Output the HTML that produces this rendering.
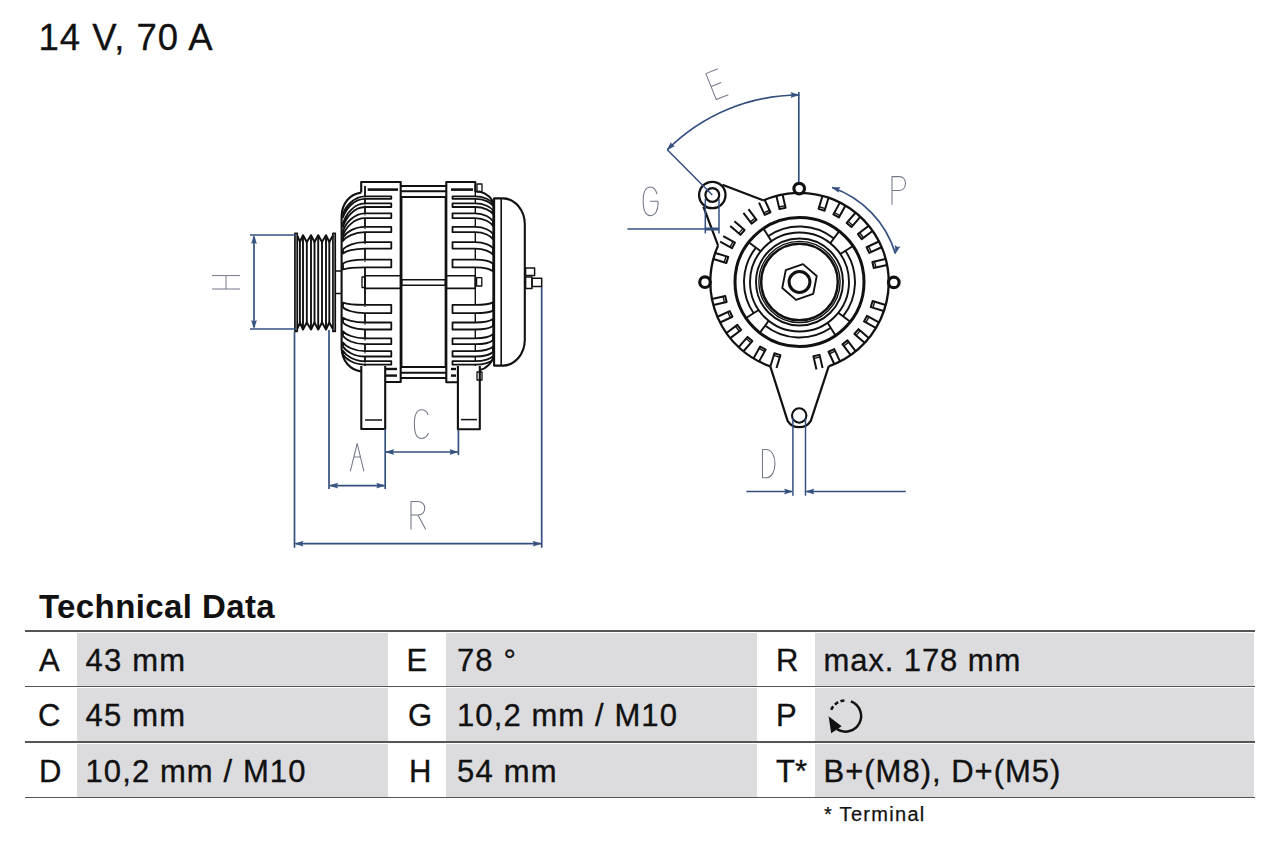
<!DOCTYPE html>
<html><head><meta charset="utf-8">
<style>
html,body{margin:0;padding:0;background:#fff;}
body{width:1280px;height:853px;position:relative;overflow:hidden;font-family:"Liberation Sans",sans-serif;color:#111;}
.t{position:absolute;white-space:pre;line-height:1;}
.title{left:38.5px;top:19.8px;font-size:36.5px;letter-spacing:1.0px;-webkit-text-stroke:0.3px #111;}
.h2{left:39px;top:590px;font-size:33px;font-weight:700;letter-spacing:0.4px;}
.hl{position:absolute;left:25px;width:1230px;height:1.6px;background:#555;}
.g{position:absolute;background:#dcdcdf;}
.c{position:absolute;font-size:31px;-webkit-text-stroke:0.35px #111;white-space:pre;line-height:1;}
.foot{left:824px;top:804.3px;font-size:20px;letter-spacing:1.3px;-webkit-text-stroke:0.25px #111;}
svg{position:absolute;left:0;top:0;}
</style></head><body>
<svg width="1280" height="853" viewBox="0 0 1280 853" stroke-linecap="butt" stroke-linejoin="round">
<rect x="294.90" y="233.20" width="2.40" height="98.20" stroke="#111" stroke-width="1.6" fill="#aaa"/>
<rect x="332.90" y="233.20" width="2.40" height="98.20" stroke="#111" stroke-width="1.6" fill="#aaa"/>
<path d="M297.6,236 L299.9,242 L303,235.2 L306.8,242 L311,235.2 L314.5,242 L318.2,235.2 L322,242 L326,235.2 L329.3,242 L332.6,236" stroke="#111" stroke-width="2.0" fill="none" />
<path d="M297.6,328.5 L299.9,322.5 L303,329.5 L306.8,322.5 L311,329.5 L314.5,322.5 L318.2,329.5 L322,322.5 L326,329.5 L329.3,322.5 L332.6,328.5" stroke="#111" stroke-width="2.0" fill="none" />
<line x1="299.90" y1="242.00" x2="299.90" y2="322.50" stroke="#111" stroke-width="1.9"/>
<line x1="303.00" y1="235.20" x2="303.00" y2="329.50" stroke="#111" stroke-width="1.9"/>
<line x1="306.80" y1="242.00" x2="306.80" y2="322.50" stroke="#111" stroke-width="1.9"/>
<line x1="311.00" y1="235.20" x2="311.00" y2="329.50" stroke="#111" stroke-width="1.9"/>
<line x1="314.50" y1="242.00" x2="314.50" y2="322.50" stroke="#111" stroke-width="1.9"/>
<line x1="318.20" y1="235.20" x2="318.20" y2="329.50" stroke="#111" stroke-width="1.9"/>
<line x1="322.00" y1="242.00" x2="322.00" y2="322.50" stroke="#111" stroke-width="1.9"/>
<line x1="326.00" y1="235.20" x2="326.00" y2="329.50" stroke="#111" stroke-width="1.9"/>
<line x1="329.30" y1="242.00" x2="329.30" y2="322.50" stroke="#111" stroke-width="1.9"/>
<path d="M335.6,271 H341.6 M335.6,293.6 H341.6" stroke="#111" stroke-width="1.5" fill="none" />
<path d="M361.2,192.6 V182 H400.7 V382 H385.2" stroke="#111" stroke-width="2.1" fill="none" />
<path d="M361.2,192.6 C350,194 342,203 341.6,216 V348 C342,361 350,370 361.2,371.4" stroke="#111" stroke-width="2.1" fill="none" />
<line x1="365.00" y1="186.00" x2="365.00" y2="366.00" stroke="#111" stroke-width="1.4"/>
<line x1="367.70" y1="189.60" x2="398.00" y2="189.60" stroke="#111" stroke-width="2.6"/>
<line x1="386.00" y1="369.00" x2="397.00" y2="369.00" stroke="#111" stroke-width="2.4"/>
<line x1="386.00" y1="375.60" x2="397.00" y2="375.60" stroke="#111" stroke-width="2.4"/>
<path d="M361.3,366 V429 H385.2 V366" stroke="#111" stroke-width="2.1" fill="none" />
<line x1="365.00" y1="420.00" x2="382.00" y2="420.00" stroke="#111" stroke-width="1.5"/>
<rect x="365.00" y="275.80" width="35.70" height="12.60" stroke="#111" stroke-width="1.6" fill="none"/>
<rect x="362.00" y="277.00" width="3.00" height="10.50" stroke="#111" stroke-width="1.3" fill="none"/>
<line x1="365.00" y1="186.00" x2="365.00" y2="366.00" stroke="#111" stroke-width="1.4"/>
<line x1="475.30" y1="186.00" x2="475.30" y2="366.00" stroke="#111" stroke-width="1.4"/>
<path d="M391.3,196.4 H365 C354.00,196.4 345.64,206.08 343.0,214 L343.0,217.5 C345.64,209.09 354.00,198.8 365,198.8 H391.3 Z" stroke="#111" stroke-width="1.8" fill="#fff" />
<path d="M391.3,203.4 H365 C354.00,203.4 345.64,214.46 343.0,223.5 L343.0,227 C345.64,218.00 354.00,207.0 365,207.0 H391.3 Z" stroke="#111" stroke-width="1.8" fill="#fff" />
<path d="M391.3,213.4 H365 C354.00,213.4 345.64,223.08 343.0,231 L343.0,235.5 C345.64,227.67 354.00,218.1 365,218.1 H391.3 Z" stroke="#111" stroke-width="1.8" fill="#fff" />
<path d="M391.3,226.9 H365 C354.00,226.9 345.64,232.73 343.0,237.5 L343.0,241 C345.64,237.04 354.00,232.2 365,232.2 H391.3 Z" stroke="#111" stroke-width="1.8" fill="#fff" />
<path d="M391.3,242.1 H365 C354.00,242.1 345.64,246.17 343.0,249.5 L343.0,253.5 C345.64,251.29 354.00,248.6 365,248.6 H391.3 Z" stroke="#111" stroke-width="1.8" fill="#fff" />
<path d="M391.3,259.7 H365 C354.00,259.7 345.64,261.79 343.0,263.5 L343.0,269.5 C345.64,268.51 354.00,267.3 365,267.3 H391.3 Z" stroke="#111" stroke-width="1.8" fill="#fff" />
<path d="M391.3,304.9 H365 C354.00,304.9 345.64,303.63 343.0,302.6 L343.0,307.5 C345.64,310.02 354.00,313.1 365,313.1 H391.3 Z" stroke="#111" stroke-width="1.8" fill="#fff" />
<path d="M391.3,322.5 H365 C354.00,322.5 345.64,319.92 343.0,317.8 L343.0,322.5 C345.64,325.65 354.00,329.5 365,329.5 H391.3 Z" stroke="#111" stroke-width="1.8" fill="#fff" />
<path d="M391.3,338.3 H365 C354.00,338.3 345.64,334.45 343.0,331.3 L343.0,336 C345.64,339.69 354.00,344.2 365,344.2 H391.3 Z" stroke="#111" stroke-width="1.8" fill="#fff" />
<path d="M391.3,351.2 H365 C354.00,351.2 345.64,346.36 343.0,342.4 L343.0,346.5 C345.64,351.00 354.00,356.5 365,356.5 H391.3 Z" stroke="#111" stroke-width="1.8" fill="#fff" />
<path d="M391.3,361.2 H365 C354.00,361.2 345.64,355.37 343.0,350.6 L343.0,354.5 C345.64,359.09 354.00,364.7 365,364.7 H391.3 Z" stroke="#111" stroke-width="1.8" fill="#fff" />
<path d="M452.5,196.4 H475.3 C484.15,196.4 490.88,200.25 493.0,203.4 L493.0,205.8 C490.88,202.65 484.15,198.8 475.3,198.8 H452.5 Z" stroke="#111" stroke-width="1.8" fill="#fff" />
<path d="M452.5,203.4 H475.3 C484.15,203.4 490.88,207.25 493.0,210.4 L493.0,214.0 C490.88,210.85 484.15,207.0 475.3,207.0 H452.5 Z" stroke="#111" stroke-width="1.8" fill="#fff" />
<path d="M452.5,213.4 H475.3 C484.15,213.4 490.88,217.80 493.0,221.4 L493.0,226.1 C490.88,222.50 484.15,218.1 475.3,218.1 H452.5 Z" stroke="#111" stroke-width="1.8" fill="#fff" />
<path d="M452.5,226.9 H475.3 C484.15,226.9 490.88,230.75 493.0,233.9 L493.0,239.2 C490.88,236.05 484.15,232.2 475.3,232.2 H452.5 Z" stroke="#111" stroke-width="1.8" fill="#fff" />
<path d="M452.5,242.1 H475.3 C484.15,242.1 490.88,245.40 493.0,248.1 L493.0,254.6 C490.88,251.90 484.15,248.6 475.3,248.6 H452.5 Z" stroke="#111" stroke-width="1.8" fill="#fff" />
<path d="M452.5,259.7 H475.3 C484.15,259.7 490.88,261.90 493.0,263.7 L493.0,271.3 C490.88,269.50 484.15,267.3 475.3,267.3 H452.5 Z" stroke="#111" stroke-width="1.8" fill="#fff" />
<path d="M452.5,304.9 H475.3 C484.15,304.9 490.88,303.52 493.0,302.4 L493.0,310.6 C490.88,311.73 484.15,313.1 475.3,313.1 H452.5 Z" stroke="#111" stroke-width="1.8" fill="#fff" />
<path d="M452.5,322.5 H475.3 C484.15,322.5 490.88,320.57 493.0,319.0 L493.0,326.0 C490.88,327.57 484.15,329.5 475.3,329.5 H452.5 Z" stroke="#111" stroke-width="1.8" fill="#fff" />
<path d="M452.5,338.3 H475.3 C484.15,338.3 490.88,336.10 493.0,334.3 L493.0,340.2 C490.88,342.00 484.15,344.2 475.3,344.2 H452.5 Z" stroke="#111" stroke-width="1.8" fill="#fff" />
<path d="M452.5,351.2 H475.3 C484.15,351.2 490.88,348.72 493.0,346.7 L493.0,352.0 C490.88,354.02 484.15,356.5 475.3,356.5 H452.5 Z" stroke="#111" stroke-width="1.8" fill="#fff" />
<path d="M452.5,361.2 H475.3 C484.15,361.2 490.88,358.45 493.0,356.2 L493.0,359.7 C490.88,361.95 484.15,364.7 475.3,364.7 H452.5 Z" stroke="#111" stroke-width="1.8" fill="#fff" />
<line x1="365.00" y1="197.40" x2="365.00" y2="198.60" stroke="#111" stroke-width="1.2"/>
<line x1="365.00" y1="204.40" x2="365.00" y2="205.60" stroke="#111" stroke-width="1.2"/>
<line x1="365.00" y1="214.40" x2="365.00" y2="215.60" stroke="#111" stroke-width="1.2"/>
<line x1="365.00" y1="227.90" x2="365.00" y2="229.10" stroke="#111" stroke-width="1.2"/>
<line x1="365.00" y1="243.10" x2="365.00" y2="244.30" stroke="#111" stroke-width="1.2"/>
<line x1="365.00" y1="260.70" x2="365.00" y2="261.90" stroke="#111" stroke-width="1.2"/>
<line x1="365.00" y1="305.90" x2="365.00" y2="307.10" stroke="#111" stroke-width="1.2"/>
<line x1="365.00" y1="323.50" x2="365.00" y2="324.70" stroke="#111" stroke-width="1.2"/>
<line x1="365.00" y1="339.30" x2="365.00" y2="340.50" stroke="#111" stroke-width="1.2"/>
<line x1="365.00" y1="352.20" x2="365.00" y2="353.40" stroke="#111" stroke-width="1.2"/>
<line x1="365.00" y1="362.20" x2="365.00" y2="363.40" stroke="#111" stroke-width="1.2"/>
<path d="M400.7,186 H446.3 M400.7,191.2 H446.3 M400.7,197 H446.3" stroke="#111" stroke-width="2.1" fill="none" />
<path d="M400.7,367 H446.3 M400.7,372.8 H446.3 M400.7,378 H446.3" stroke="#111" stroke-width="2.1" fill="none" />
<line x1="401.70" y1="197.00" x2="401.70" y2="367.00" stroke="#111" stroke-width="1.5"/>
<line x1="445.40" y1="197.00" x2="445.40" y2="367.00" stroke="#111" stroke-width="1.5"/>
<rect x="401.70" y="279.80" width="43.70" height="5.40" stroke="#111" stroke-width="1.6" fill="none"/>
<path d="M475.3,192 V182 H446.3 V382.2 H458" stroke="#111" stroke-width="2.1" fill="none" />
<line x1="475.30" y1="191.50" x2="480.00" y2="191.50" stroke="#111" stroke-width="1.6"/>
<path d="M479.5,191.5 C486,193 493,198 493.4,205 V356 C493,362 486,369 479.5,370" stroke="#111" stroke-width="2.1" fill="none" />
<line x1="451.00" y1="189.60" x2="473.00" y2="189.60" stroke="#111" stroke-width="2.6"/>
<line x1="451.00" y1="369.00" x2="456.00" y2="369.00" stroke="#111" stroke-width="2.4"/>
<line x1="451.00" y1="375.60" x2="456.00" y2="375.60" stroke="#111" stroke-width="2.4"/>
<rect x="446.30" y="275.80" width="29.00" height="12.60" stroke="#111" stroke-width="1.6" fill="none"/>
<rect x="477.00" y="184.00" width="5.00" height="8.00" stroke="#111" stroke-width="1.3" fill="none"/>
<rect x="476.60" y="277.60" width="5.20" height="8.40" stroke="#111" stroke-width="1.3" fill="none"/>
<rect x="477.00" y="372.00" width="5.00" height="8.00" stroke="#111" stroke-width="1.3" fill="none"/>
<path d="M457.9,366 V429.3 H479.8 V366" stroke="#111" stroke-width="2.1" fill="none" />
<line x1="461.00" y1="419.60" x2="477.00" y2="419.60" stroke="#111" stroke-width="1.5"/>
<path d="M494.1,198.4 H503 A22,26 0 0 1 524.8,224 V340 A22,26 0 0 1 503,365.6 H494.1 Z" stroke="#111" stroke-width="2.1" fill="#fff" />
<line x1="501.20" y1="198.40" x2="501.20" y2="365.60" stroke="#111" stroke-width="1.6"/>
<rect x="525.60" y="267.90" width="9.00" height="7.70" stroke="#111" stroke-width="1.5" fill="none"/>
<rect x="525.60" y="277.00" width="6.40" height="11.50" stroke="#111" stroke-width="1.5" fill="none"/>
<rect x="532.00" y="278.20" width="9.70" height="8.40" stroke="#111" stroke-width="1.5" fill="none"/>
<line x1="250.00" y1="235.00" x2="296.00" y2="235.00" stroke="#34507f" stroke-width="1.7"/>
<line x1="250.00" y1="329.00" x2="296.00" y2="329.00" stroke="#34507f" stroke-width="1.7"/>
<line x1="254.00" y1="237.00" x2="254.00" y2="327.00" stroke="#34507f" stroke-width="1.7"/>
<path d="M254.00,235.80 L256.40,243.40 L254.00,242.26 L251.60,243.40 Z" fill="#34507f" stroke="#34507f" stroke-width="0.6"/>
<path d="M254.00,328.20 L251.60,320.60 L254.00,321.74 L256.40,320.60 Z" fill="#34507f" stroke="#34507f" stroke-width="0.6"/>
<path d="M212,275.6 H240 M212,289 H240 M226,275.6 V289" stroke="#737888" stroke-width="1.0" fill="none" />
<line x1="294.50" y1="332.00" x2="294.50" y2="547.80" stroke="#34507f" stroke-width="1.7"/>
<line x1="541.70" y1="287.00" x2="541.70" y2="547.80" stroke="#34507f" stroke-width="1.7"/>
<line x1="295.50" y1="543.70" x2="541.00" y2="543.70" stroke="#34507f" stroke-width="1.7"/>
<path d="M295.40,543.70 L303.00,541.30 L301.86,543.70 L303.00,546.10 Z" fill="#34507f" stroke="#34507f" stroke-width="0.6"/>
<path d="M540.80,543.70 L533.20,546.10 L534.34,543.70 L533.20,541.30 Z" fill="#34507f" stroke="#34507f" stroke-width="0.6"/>
<line x1="329.00" y1="330.00" x2="329.00" y2="489.00" stroke="#34507f" stroke-width="1.7"/>
<line x1="385.20" y1="429.00" x2="385.20" y2="489.00" stroke="#34507f" stroke-width="1.7"/>
<line x1="330.00" y1="485.60" x2="384.50" y2="485.60" stroke="#34507f" stroke-width="1.7"/>
<path d="M330.00,485.60 L337.60,483.20 L336.46,485.60 L337.60,488.00 Z" fill="#34507f" stroke="#34507f" stroke-width="0.6"/>
<path d="M384.40,485.60 L376.80,488.00 L377.94,485.60 L376.80,483.20 Z" fill="#34507f" stroke="#34507f" stroke-width="0.6"/>
<line x1="458.40" y1="429.30" x2="458.40" y2="455.00" stroke="#34507f" stroke-width="1.7"/>
<line x1="386.00" y1="452.00" x2="457.60" y2="452.00" stroke="#34507f" stroke-width="1.7"/>
<path d="M386.00,452.00 L393.60,449.60 L392.46,452.00 L393.60,454.40 Z" fill="#34507f" stroke="#34507f" stroke-width="0.6"/>
<path d="M457.60,452.00 L450.00,454.40 L451.14,452.00 L450.00,449.60 Z" fill="#34507f" stroke="#34507f" stroke-width="0.6"/>
<path d="M350.3,471.4 L357.2,443.5 L363.9,471.4 M353.8,457 H360.7" stroke="#737888" stroke-width="1.05" fill="none" />
<path d="M428.2,415 C427,411.5 424.5,409.8 421.5,409.8 C416.5,409.8 414.4,416 414.4,424 C414.4,432.5 416.5,438.5 421.5,438.5 C424.5,438.5 427,436.5 428.5,433" stroke="#737888" stroke-width="1.05" fill="none" />
<path d="M411,529.5 V501.5 H418 C427,501.5 427,515 418,515 H411 M418,515 L425.7,529.5" stroke="#737888" stroke-width="1.05" fill="none" />
<path d="M763.12,200.56 A89.2,89.2 0 1 1 828.66,366.30" stroke="#111" stroke-width="2.3" fill="none" />
<path d="M770.34,366.30 A89.2,89.2 0 0 1 718.17,245.37" stroke="#111" stroke-width="2.3" fill="none" />
<circle cx="712.30" cy="195.00" r="13.20" stroke="#111" stroke-width="2.3" fill="none"/>
<circle cx="712.30" cy="195.00" r="6.90" stroke="#111" stroke-width="2.2" fill="none"/>
<line x1="722.40" y1="184.80" x2="763.00" y2="200.30" stroke="#111" stroke-width="2.2"/>
<line x1="703.40" y1="206.70" x2="718.00" y2="245.30" stroke="#111" stroke-width="2.2"/>
<path d="M770.3,366.4 L787.6,420.8 A13.7,13.7 0 0 0 810.8,420.8 L828.7,366.4" stroke="#111" stroke-width="2.2" fill="none" />
<circle cx="799.20" cy="415.50" r="7.20" stroke="#111" stroke-width="2.1" fill="none"/>
<circle cx="799.20" cy="188.60" r="5.30" stroke="#111" stroke-width="3.2" fill="#fff"/>
<circle cx="705.00" cy="282.20" r="5.30" stroke="#111" stroke-width="3.2" fill="#fff"/>
<circle cx="893.80" cy="282.40" r="5.30" stroke="#111" stroke-width="3.2" fill="#fff"/>
<circle cx="799.50" cy="282.00" r="64.50" stroke="#111" stroke-width="3.0" fill="none"/>
<circle cx="799.50" cy="282.00" r="49.50" stroke="#111" stroke-width="1.9" fill="none"/>
<circle cx="799.50" cy="282.00" r="43.50" stroke="#111" stroke-width="1.9" fill="none"/>
<circle cx="799.50" cy="282.00" r="40.60" stroke="#111" stroke-width="1.4" fill="none"/>
<circle cx="799.50" cy="282.00" r="38.30" stroke="#111" stroke-width="2.5" fill="none"/>
<path d="M845.51,250.96 A55.5,55.5 0 0 1 843.23,316.17" stroke="#111" stroke-width="1.9" fill="none" />
<path d="M830.54,328.01 A55.5,55.5 0 0 1 765.33,325.73" stroke="#111" stroke-width="1.9" fill="none" />
<path d="M753.49,313.04 A55.5,55.5 0 0 1 755.77,247.83" stroke="#111" stroke-width="1.9" fill="none" />
<path d="M768.46,235.99 A55.5,55.5 0 0 1 833.67,238.27" stroke="#111" stroke-width="1.9" fill="none" />
<line x1="839.21" y1="231.17" x2="830.28" y2="243.23" stroke="#111" stroke-width="1.9"/>
<line x1="852.97" y1="245.93" x2="840.32" y2="254.00" stroke="#111" stroke-width="1.9"/>
<line x1="850.33" y1="321.71" x2="838.27" y2="312.78" stroke="#111" stroke-width="1.9"/>
<line x1="835.57" y1="335.47" x2="827.50" y2="322.82" stroke="#111" stroke-width="1.9"/>
<line x1="759.79" y1="332.83" x2="768.72" y2="320.77" stroke="#111" stroke-width="1.9"/>
<line x1="746.03" y1="318.07" x2="758.68" y2="310.00" stroke="#111" stroke-width="1.9"/>
<line x1="748.67" y1="242.29" x2="760.73" y2="251.22" stroke="#111" stroke-width="1.9"/>
<line x1="763.43" y1="228.53" x2="771.50" y2="241.18" stroke="#111" stroke-width="1.9"/>
<path d="M816.71,276.07 L813.24,293.94 L796.03,299.87 L782.29,287.93 L785.76,270.06 L802.97,264.13 Z" stroke="#111" stroke-width="1.9" fill="none" />
<circle cx="799.50" cy="282.00" r="10.40" stroke="#111" stroke-width="3.0" fill="none"/>
<path d="M822.51,195.97 L818.56,208.88 L824.59,210.72 L828.53,197.81" stroke="#111" stroke-width="2.0" fill="none" />
<line x1="819.20" y1="206.77" x2="825.23" y2="208.62" stroke="#111" stroke-width="1.4"/>
<path d="M839.89,202.63 L833.35,214.44 L838.86,217.49 L845.40,205.69" stroke="#111" stroke-width="2.0" fill="none" />
<line x1="834.41" y1="212.51" x2="839.92" y2="215.57" stroke="#111" stroke-width="1.4"/>
<path d="M855.51,212.76 L846.66,222.95 L851.41,227.09 L860.27,216.90" stroke="#111" stroke-width="2.0" fill="none" />
<line x1="848.10" y1="221.29" x2="852.85" y2="225.43" stroke="#111" stroke-width="1.4"/>
<path d="M868.68,225.92 L857.90,234.05 L861.69,239.08 L872.47,230.95" stroke="#111" stroke-width="2.0" fill="none" />
<line x1="859.66" y1="232.72" x2="863.45" y2="237.75" stroke="#111" stroke-width="1.4"/>
<path d="M878.83,241.53 L866.59,247.24 L869.26,252.95 L881.49,247.24" stroke="#111" stroke-width="2.0" fill="none" />
<line x1="868.59" y1="246.31" x2="871.25" y2="252.02" stroke="#111" stroke-width="1.4"/>
<path d="M885.51,258.91 L872.36,261.95 L873.77,268.09 L886.93,265.05" stroke="#111" stroke-width="2.0" fill="none" />
<line x1="874.50" y1="261.45" x2="875.92" y2="267.59" stroke="#111" stroke-width="1.4"/>
<path d="M885.53,305.01 L872.62,301.06 L870.78,307.09 L883.69,311.03" stroke="#111" stroke-width="2.0" fill="none" />
<line x1="874.73" y1="301.70" x2="872.88" y2="307.73" stroke="#111" stroke-width="1.4"/>
<path d="M878.87,322.39 L867.06,315.85 L864.01,321.36 L875.81,327.90" stroke="#111" stroke-width="2.0" fill="none" />
<line x1="868.99" y1="316.91" x2="865.93" y2="322.42" stroke="#111" stroke-width="1.4"/>
<path d="M868.74,338.01 L858.55,329.16 L854.41,333.91 L864.60,342.77" stroke="#111" stroke-width="2.0" fill="none" />
<line x1="860.21" y1="330.60" x2="856.07" y2="335.35" stroke="#111" stroke-width="1.4"/>
<path d="M855.58,351.18 L847.45,340.40 L842.42,344.19 L850.55,354.97" stroke="#111" stroke-width="2.0" fill="none" />
<line x1="848.78" y1="342.16" x2="843.75" y2="345.95" stroke="#111" stroke-width="1.4"/>
<path d="M839.97,361.33 L834.26,349.09 L828.55,351.76 L834.26,363.99" stroke="#111" stroke-width="2.0" fill="none" />
<line x1="835.19" y1="351.09" x2="829.48" y2="353.75" stroke="#111" stroke-width="1.4"/>
<path d="M822.59,368.01 L819.55,354.86 L813.41,356.27 L816.45,369.43" stroke="#111" stroke-width="2.0" fill="none" />
<line x1="820.05" y1="357.00" x2="813.91" y2="358.42" stroke="#111" stroke-width="1.4"/>
<path d="M776.49,368.03 L780.44,355.12 L774.41,353.28 L770.47,366.19" stroke="#111" stroke-width="2.0" fill="none" />
<line x1="779.80" y1="357.23" x2="773.77" y2="355.38" stroke="#111" stroke-width="1.4"/>
<path d="M759.11,361.37 L765.65,349.56 L760.14,346.51 L753.60,358.31" stroke="#111" stroke-width="2.0" fill="none" />
<line x1="764.59" y1="351.49" x2="759.08" y2="348.43" stroke="#111" stroke-width="1.4"/>
<path d="M743.49,351.24 L752.34,341.05 L747.59,336.91 L738.73,347.10" stroke="#111" stroke-width="2.0" fill="none" />
<line x1="750.90" y1="342.71" x2="746.15" y2="338.57" stroke="#111" stroke-width="1.4"/>
<path d="M730.32,338.08 L741.10,329.95 L737.31,324.92 L726.53,333.05" stroke="#111" stroke-width="2.0" fill="none" />
<line x1="739.34" y1="331.28" x2="735.55" y2="326.25" stroke="#111" stroke-width="1.4"/>
<path d="M720.17,322.47 L732.41,316.76 L729.74,311.05 L717.51,316.76" stroke="#111" stroke-width="2.0" fill="none" />
<line x1="730.41" y1="317.69" x2="727.75" y2="311.98" stroke="#111" stroke-width="1.4"/>
<path d="M713.49,305.09 L726.64,302.05 L725.23,295.91 L712.07,298.95" stroke="#111" stroke-width="2.0" fill="none" />
<line x1="724.50" y1="302.55" x2="723.08" y2="296.41" stroke="#111" stroke-width="1.4"/>
<path d="M713.47,258.99 L726.38,262.94 L728.22,256.91 L715.31,252.97" stroke="#111" stroke-width="2.0" fill="none" />
<line x1="724.27" y1="262.30" x2="726.12" y2="256.27" stroke="#111" stroke-width="1.4"/>
<path d="M720.13,241.61 L731.94,248.15 L734.99,242.64 L723.19,236.10" stroke="#111" stroke-width="2.0" fill="none" />
<line x1="730.01" y1="247.09" x2="733.07" y2="241.58" stroke="#111" stroke-width="1.4"/>
<path d="M730.26,225.99 L740.45,234.84 L744.59,230.09 L734.40,221.23" stroke="#111" stroke-width="2.0" fill="none" />
<line x1="738.79" y1="233.40" x2="742.93" y2="228.65" stroke="#111" stroke-width="1.4"/>
<path d="M743.42,212.82 L751.55,223.60 L756.58,219.81 L748.45,209.03" stroke="#111" stroke-width="2.0" fill="none" />
<line x1="750.22" y1="221.84" x2="755.25" y2="218.05" stroke="#111" stroke-width="1.4"/>
<path d="M759.03,202.67 L764.74,214.91 L770.45,212.24 L764.74,200.01" stroke="#111" stroke-width="2.0" fill="none" />
<line x1="763.81" y1="212.91" x2="769.52" y2="210.25" stroke="#111" stroke-width="1.4"/>
<path d="M776.41,195.99 L779.45,209.14 L785.59,207.73 L782.55,194.57" stroke="#111" stroke-width="2.0" fill="none" />
<line x1="778.95" y1="207.00" x2="785.09" y2="205.58" stroke="#111" stroke-width="1.4"/>
<line x1="798.80" y1="92.00" x2="798.80" y2="182.00" stroke="#34507f" stroke-width="1.7"/>
<path d="M667.27,149.77 A187,187 0 0 1 799.50,95.00" stroke="#34507f" stroke-width="1.7" fill="none" />
<path d="M798.60,95.00 L791.00,97.40 L792.14,95.00 L791.00,92.60 Z" fill="#34507f" stroke="#34507f" stroke-width="0.6"/>
<path d="M667.27,149.77 L670.95,142.70 L671.84,145.20 L674.34,146.09 Z" fill="#34507f" stroke="#34507f" stroke-width="0.6"/>
<line x1="667.27" y1="149.77" x2="712.30" y2="195.00" stroke="#34507f" stroke-width="1.5"/>
<g transform="translate(717,84.2) rotate(-22)"><path d="M6.6,-14 H-6.4 V14 H6.6 M-6.4,0 H4.6" stroke="#737888" stroke-width="1.05" fill="none"/></g>
<line x1="627.40" y1="229.00" x2="719.00" y2="229.00" stroke="#34507f" stroke-width="1.7"/>
<line x1="705.30" y1="199.00" x2="705.30" y2="233.40" stroke="#34507f" stroke-width="1.5"/>
<line x1="719.00" y1="199.00" x2="719.00" y2="233.40" stroke="#34507f" stroke-width="1.5"/>
<line x1="705.30" y1="229.00" x2="719.00" y2="229.00" stroke="#34507f" stroke-width="3.0"/>
<path d="M657,194 C655.5,189 653,187 650.5,187 C645.5,187 643.2,193 643.2,201 C643.2,210 645.5,215.6 650.5,215.6 C655.5,215.6 658,210 658,204 V201.3 H650" stroke="#737888" stroke-width="1.05" fill="none" />
<path d="M832.06,187.45 A100,100 0 0 1 895.33,253.43" stroke="#34507f" stroke-width="1.7" fill="none" />
<path d="M832.06,187.45 L840.02,187.65 L838.16,189.55 L838.46,192.19 Z" fill="#34507f" stroke="#34507f" stroke-width="0.6"/>
<path d="M895.33,253.43 L895.20,245.46 L897.18,247.24 L899.80,246.83 Z" fill="#34507f" stroke="#34507f" stroke-width="0.6"/>
<path d="M892,204.8 V176.6 H899.5 C907.5,176.6 907.5,190.4 899.5,190.4 H892" stroke="#737888" stroke-width="1.05" fill="none" />
<line x1="792.90" y1="418.00" x2="792.90" y2="495.70" stroke="#34507f" stroke-width="1.5"/>
<line x1="805.50" y1="418.00" x2="805.50" y2="495.70" stroke="#34507f" stroke-width="1.5"/>
<line x1="746.40" y1="491.50" x2="792.00" y2="491.50" stroke="#34507f" stroke-width="1.7"/>
<line x1="806.40" y1="491.50" x2="905.80" y2="491.50" stroke="#34507f" stroke-width="1.7"/>
<path d="M792.20,491.50 L784.60,493.90 L785.74,491.50 L784.60,489.10 Z" fill="#34507f" stroke="#34507f" stroke-width="0.6"/>
<path d="M806.20,491.50 L813.80,489.10 L812.66,491.50 L813.80,493.90 Z" fill="#34507f" stroke="#34507f" stroke-width="0.6"/>
<path d="M762.5,449.5 V477.8 H766 C778,477.8 778,449.5 766,449.5 Z" stroke="#737888" stroke-width="1.05" fill="none" />
</svg>
<div class="t title">14 V, 70 A</div>
<div class="t h2">Technical Data</div>
<!-- table rows -->
<div class="g" style="left:77px;top:632.5px;width:311px;height:53px"></div>
<div class="g" style="left:445.5px;top:632.5px;width:311.5px;height:53px"></div>
<div class="g" style="left:815px;top:632.5px;width:438.7px;height:53px"></div>
<div class="g" style="left:77px;top:688px;width:311px;height:53px"></div>
<div class="g" style="left:445.5px;top:688px;width:311.5px;height:53px"></div>
<div class="g" style="left:815px;top:688px;width:438.7px;height:53px"></div>
<div class="g" style="left:77px;top:743.5px;width:311px;height:53px"></div>
<div class="g" style="left:445.5px;top:743.5px;width:311.5px;height:53px"></div>
<div class="g" style="left:815px;top:743.5px;width:438.7px;height:53px"></div>
<div class="hl" style="top:630.4px"></div>
<div class="hl" style="top:685.8px"></div>
<div class="hl" style="top:741.2px"></div>
<div class="hl" style="top:796.7px"></div>
<div class="c" style="left:39px;top:645px">A</div>
<div class="c" style="left:85.5px;top:645px;letter-spacing:1.2px">43 mm</div>
<div class="c" style="left:406.5px;top:645px">E</div>
<div class="c" style="left:457px;top:645px;letter-spacing:1.1px">78 °</div>
<div class="c" style="left:776px;top:645px">R</div>
<div class="c" style="left:823.5px;top:645px;letter-spacing:0.9px">max. 178 mm</div>
<div class="c" style="left:38px;top:700px">C</div>
<div class="c" style="left:85.5px;top:700px;letter-spacing:1.2px">45 mm</div>
<div class="c" style="left:408px;top:700px">G</div>
<div class="c" style="left:457px;top:700px;letter-spacing:1.1px">10,2 mm / M10</div>
<div class="c" style="left:776px;top:700px">P</div>
<svg style="left:825px;top:696px" width="40" height="40" viewBox="0 0 40 40">
<path d="M25.84,5.34 A15.6,15.6 0 1 1 12.0,33.08" stroke="#111" stroke-width="2.5" fill="none"/>
<path d="M19.41,4.44 A15.6,15.6 0 0 0 5.66,15.18" stroke="#111" stroke-width="2.5" fill="none" stroke-dasharray="4.0,2.5"/>
<path d="M3.6,20.3 L6.2,37.2 L16.6,30.2 Z" fill="#111"/>
</svg>
<div class="c" style="left:39px;top:756px">D</div>
<div class="c" style="left:85.5px;top:756px;letter-spacing:1.1px">10,2 mm / M10</div>
<div class="c" style="left:409px;top:756px">H</div>
<div class="c" style="left:457px;top:756px;letter-spacing:1.2px">54 mm</div>
<div class="c" style="left:776px;top:756px">T*</div>
<div class="c" style="left:823.5px;top:756px;letter-spacing:1px">B+(M8), D+(M5)</div>
<div class="t foot">* Terminal</div>
</body></html>
